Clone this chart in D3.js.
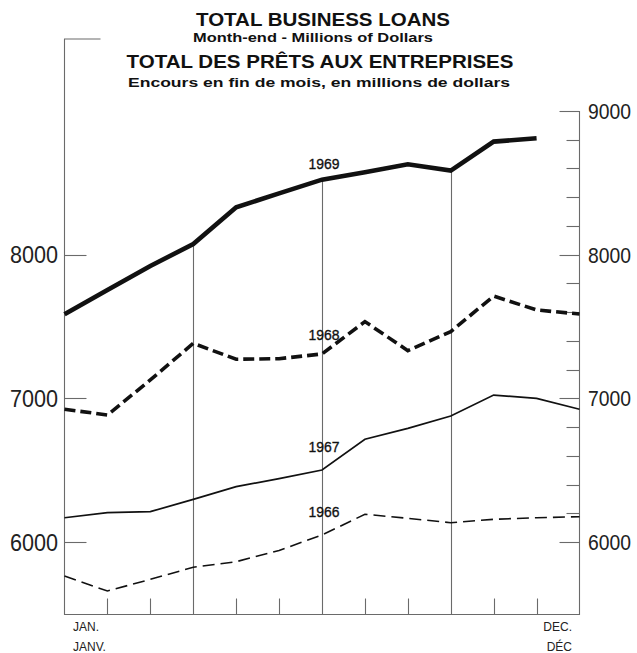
<!DOCTYPE html>
<html>
<head>
<meta charset="utf-8">
<script src="https://cdn.jsdelivr.net/npm/d3@7"></script>
<style>
  body { margin: 0; background: #fff; }
  svg { display: block; }
</style>
</head>
<body>
<div id="chart"></div>
<script>

/*************************************************** Total business loans chart ***************************************************************************************************/

// month-end points: previous December, then Jan ... Dec
var monthEnds = ["DEC-1", "JAN", "FEB", "MAR", "APR", "MAY", "JUN", "JUL", "AUG", "SEP", "OCT", "NOV", "DEC"];

// millions of dollars
var loans1966 = [5763, 5659, 5740, 5824, 5863, 5941, 6049, 6193, 6165, 6134, 6158, 6169, 6176];
var loans1967 = [6169, 6204, 6211, 6297, 6385, 6441, 6501, 6715, 6791, 6877, 7023, 7000, 6924];
var loans1968 = [6924, 6884, 7128, 7383, 7272, 7276, 7309, 7534, 7332, 7464, 7712, 7615, 7587];
var loans1969 = [7585, 7754, 7921, 8074, 8330, 8427, 8522, 8574, 8629, 8585, 8787, 8810];

var seriesNames = ["1966", "1967", "1968", "1969"];

// tick labels
var leftTicks = [6000, 7000, 8000];
var rightMajorTicks = [6000, 7000, 8000, 9000];
var rightMinorTicks = [6200, 6400, 6600, 6800, 7200, 7400, 7600, 7800, 8200, 8400, 8600, 8800];
var gridMonths = ["MAR", "JUN", "SEP"];

var titleLines = [
    "TOTAL BUSINESS LOANS",
    "Month-end - Millions of Dollars",
    "TOTAL DES PRÊTS AUX ENTREPRISES",
    "Encours en fin de mois, en millions de dollars"
];
var startLabels = ["JAN.", "JANV."];
var endLabels = ["DEC.", "DÉC"];

//Width and height
var w = 637;
var h = 653;

var FONT = "'Liberation Sans', Arial, sans-serif";
var INK = "#111";
var AXIS = "#6a6a6a";

//plot frame
var left = 64.5, right = 579.5, bottom = 614.5, leftTop = 39, rightTop = 111;

var x = d3.scalePoint()
    .domain(monthEnds)
    .range([left, right]);

var y = d3.scaleLinear()
    .domain([6000, 9000])
    .range([542, 111]);

var svg = d3.select("#chart")
    .append("svg")
    .attr("width", w)
    .attr("height", h);

//titles
var titleStyle = [
    {cx: 323, y: 26, size: 18, len: 254},
    {cx: 313, y: 41.5, size: 12, len: 240},
    {cx: 320, y: 68, size: 19, len: 387},
    {cx: 319, y: 87, size: 12, len: 382}
];
svg.append("g").selectAll("text")
    .data(titleLines)
    .join("text")
    .attr("x", function (d, i) { return titleStyle[i].cx; })
    .attr("y", function (d, i) { return titleStyle[i].y; })
    .attr("font-size", function (d, i) { return titleStyle[i].size; })
    .attr("textLength", function (d, i) { return titleStyle[i].len; })
    .attr("lengthAdjust", "spacingAndGlyphs")
    .style("font-family", FONT)
    .style("font-weight", "bold")
    .style("fill", INK)
    .style("text-anchor", "middle")
    .text(function (d) { return d; });

var axes = svg.append("g")
    .attr("stroke", AXIS)
    .attr("stroke-width", 1.1)
    .attr("fill", "none");

//left axis with the short cap at the top
axes.append("path")
    .attr("d", "M" + (left + 36) + "," + leftTop + "H" + left + "V" + bottom + "H" + right + "V" + rightTop);

//left ticks
axes.selectAll("line.lt")
    .data(leftTicks)
    .join("line")
    .attr("x1", left).attr("x2", left + 22)
    .attr("y1", function (d) { return Math.round(y(d)) + 0.5; })
    .attr("y2", function (d) { return Math.round(y(d)) + 0.5; });

//right ticks
axes.selectAll("line.rt")
    .data(rightMajorTicks.map(function (d) { return {v: d, len: 20}; })
        .concat(rightMinorTicks.map(function (d) { return {v: d, len: 13}; })))
    .join("line")
    .attr("x1", function (d) { return right - d.len; }).attr("x2", right)
    .attr("y1", function (d) { return Math.round(y(d.v)) + 0.5; })
    .attr("y2", function (d) { return Math.round(y(d.v)) + 0.5; });

//month ticks along the bottom, full height lines for MAR / JUN / SEP up to the 1969 curve
axes.selectAll("line.mt")
    .data(monthEnds.slice(1, monthEnds.length - 1))
    .join("line")
    .attr("x1", function (d) { return Math.round(x(d)) + 0.5; })
    .attr("x2", function (d) { return Math.round(x(d)) + 0.5; })
    .attr("y1", bottom)
    .attr("y2", function (d) {
        if (gridMonths.indexOf(d) >= 0) {
            return y(loans1969[monthEnds.indexOf(d)]);
        }
        return bottom - 16;
    });

//left and right value labels
svg.append("g").selectAll("text")
    .data(leftTicks)
    .join("text")
    .attr("x", 58)
    .attr("y", function (d) { return y(d) + 8.5; })
    .attr("font-size", 23)
    .attr("textLength", 48)
    .attr("lengthAdjust", "spacingAndGlyphs")
    .style("font-family", FONT)
    .style("fill", "#222")
    .style("text-anchor", "end")
    .text(function (d) { return d; });

svg.append("g").selectAll("text")
    .data(rightMajorTicks)
    .join("text")
    .attr("x", 588)
    .attr("y", function (d) { return y(d) + 8; })
    .attr("font-size", 22)
    .attr("textLength", 43)
    .attr("lengthAdjust", "spacingAndGlyphs")
    .style("font-family", FONT)
    .style("fill", "#222")
    .style("text-anchor", "start")
    .text(function (d) { return d; });

//month labels
svg.append("g").selectAll("text")
    .data(startLabels)
    .join("text")
    .attr("x", 73)
    .attr("y", function (d, i) { return 631 + i * 19.5; })
    .attr("font-size", 12)
    .style("font-family", FONT)
    .style("fill", "#222")
    .text(function (d) { return d; });

svg.append("g").selectAll("text")
    .data(endLabels)
    .join("text")
    .attr("x", 572)
    .attr("y", function (d, i) { return 631 + i * 19.5; })
    .attr("font-size", 12)
    .style("font-family", FONT)
    .style("fill", "#222")
    .style("text-anchor", "end")
    .text(function (d) { return d; });

//the four years
var seriesData = [loans1966, loans1967, loans1968, loans1969];
var seriesStyle = [
    {width: 1.6, dash: "12,6", labelGap: 18},
    {width: 1.7, dash: null, labelGap: 18},
    {width: 3.6, dash: "11,5", labelGap: 14},
    {width: 4.6, dash: null, labelGap: 11}
];
var labelAt = "JUN";

var line = d3.line()
    .x(function (d, i) { return x(monthEnds[i]); })
    .y(function (d) { return y(d); });

var lines = svg.append("g");
seriesData.forEach(function (values, k) {
    lines.append("path")
        .attr("d", line(values))
        .attr("fill", "none")
        .attr("stroke", INK)
        .attr("stroke-width", seriesStyle[k].width)
        .attr("stroke-dasharray", seriesStyle[k].dash)
        .attr("stroke-linejoin", "miter");

    var j = monthEnds.indexOf(labelAt);
    lines.append("text")
        .attr("x", x(labelAt) + 2)
        .attr("y", y(values[j]) - seriesStyle[k].labelGap)
        .attr("font-size", 15.5)
        .attr("textLength", 31)
        .attr("lengthAdjust", "spacingAndGlyphs")
        .style("font-family", FONT)
        .style("fill", INK)
        .style("stroke", INK)
        .style("stroke-width", 0.35)
        .style("text-anchor", "middle")
        .text(seriesNames[k]);
});

</script>
</body>
</html>
